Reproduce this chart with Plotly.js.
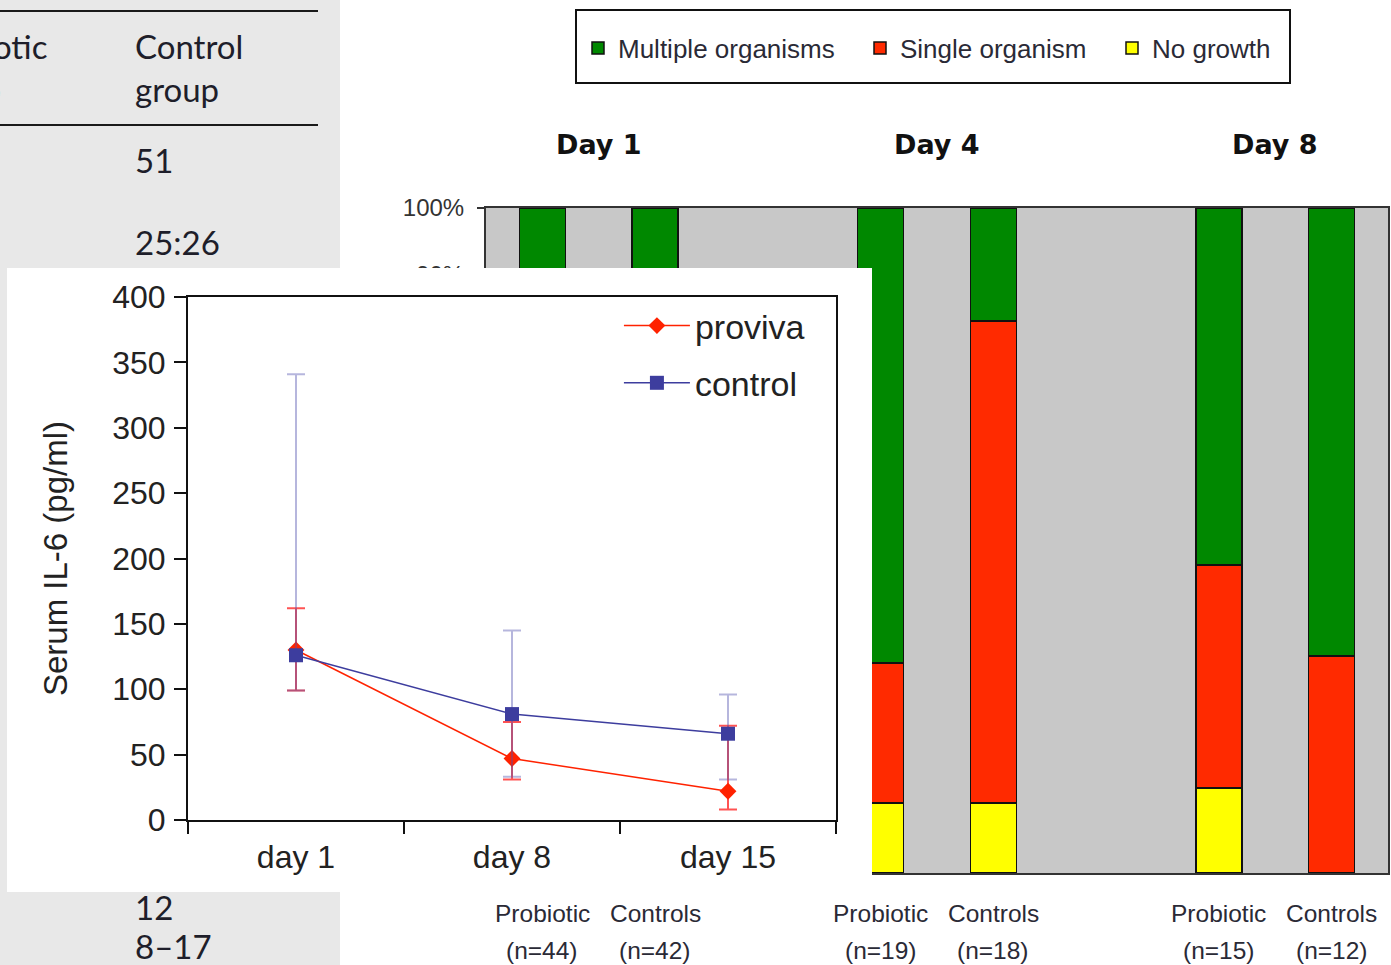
<!DOCTYPE html>
<html>
<head>
<meta charset="utf-8">
<script src="https://cdn.plot.ly/plotly-3.0.1.min.js"></script>
<style>
  html, body { margin:0; padding:0; background:#ffffff; overflow:hidden; }
  #main { position:absolute; left:0; top:0; width:1391px; height:965px; }
  #inset { position:absolute; left:7px; top:268px; width:865px; height:624px; }
</style>
</head>
<body>
<div id="main"></div>
<div id="inset"></div>
<script>
// ---------- Bar chart data (fraction of cultures) ----------
const days = ['Day 1', 'Day 4', 'Day 8'];
const groups = ['Probiotic', 'Controls'];
const nLabels = ['(n=44)', '(n=42)', '(n=19)', '(n=18)', '(n=15)', '(n=12)'];
const multipleOrganisms = [0.75, 0.70, 0.684, 0.170, 0.537, 0.674];
const singleOrganism    = [0.20, 0.26, 0.211, 0.725, 0.335, 0.326];
const noGrowth          = [0.05, 0.04, 0.105, 0.105, 0.128, 0.000];

// ---------- Table fragment text ----------
const tableHeaders = ['Probiotic<br>group', 'Control<br>group'];
const tableControlValues = ['51', '25:26', '12', '8\u201317'];

// ---------- Line chart data (Serum IL-6, pg/ml) ----------
const timepoints = ['day 1', 'day 8', 'day 15'];
const provivaMean  = [130, 47, 22];
const provivaUpper = [162, 75, 72];
const provivaLower = [99, 31, 8];
const controlMean  = [126, 81, 66];
const controlUpper = [341, 145, 96];
const controlLower = [99, 33, 31];

// ---------- Main figure ----------
const W = 1391, H = 965;
const px = x => x / W;
const py = y => 1 - y / H;
const FONT = 'Liberation Sans, Arial, sans-serif';
const TXT = '#2a2a36';

const xPos = [];
days.forEach((d, i) => groups.forEach((g, j) => xPos.push(i * 3 + j)));

const barStyle = { width: 0.41, type: 'bar', x: xPos, hoverinfo: 'skip' };
const barTraces = [
  Object.assign({}, barStyle, { name: 'No growth', y: noGrowth, legend: 'legend3',
    marker: { color: '#ffff00', line: { color: '#111', width: 1.5 } } }),
  Object.assign({}, barStyle, { name: 'Single organism', y: singleOrganism, legend: 'legend2',
    marker: { color: '#ff2a00', line: { color: '#111', width: 1.5 } } }),
  Object.assign({}, barStyle, { name: 'Multiple organisms', y: multipleOrganisms, legend: 'legend',
    marker: { color: '#008800', line: { color: '#111', width: 1.5 } } })
];

const annotations = [];
// Day titles
days.forEach((d, i) => annotations.push({
  text: '<b>' + d + '</b>', x: i * 3 + 0.5, xref: 'x', y: py(145), yref: 'paper',
  showarrow: false, xanchor: 'center', yanchor: 'middle',
  font: { family: 'DejaVu Sans, sans-serif', size: 27, color: '#111' }
}));
// Category labels
xPos.forEach((xv, k) => {
  annotations.push({ text: groups[k % 2], x: xv, xref: 'x', y: py(913), yref: 'paper',
    showarrow: false, xanchor: 'center', yanchor: 'middle',
    font: { family: FONT, size: 24.5, color: TXT } });
  annotations.push({ text: nLabels[k], x: xv, xref: 'x', y: py(950), yref: 'paper',
    showarrow: false, xanchor: 'center', yanchor: 'middle',
    font: { family: FONT, size: 24.5, color: TXT } });
});
// Table fragment
const TFONT = { family: 'Lato, Open Sans, sans-serif', size: 33, color: '#1e1e2a' };
annotations.push({ text: tableHeaders[0], x: px(-85), xref: 'paper', y: py(68), yref: 'paper',
  showarrow: false, xanchor: 'left', yanchor: 'middle', align: 'left', font: TFONT });
annotations.push({ text: tableHeaders[1], x: px(133), xref: 'paper', y: py(68), yref: 'paper',
  showarrow: false, xanchor: 'left', yanchor: 'middle', align: 'left', font: TFONT });
const tableY = [160, 242, 907, 946];
tableControlValues.forEach((t, i) => annotations.push({
  text: t, x: px(133), xref: 'paper', y: py(tableY[i]), yref: 'paper',
  showarrow: false, xanchor: 'left', yanchor: 'middle', font: TFONT
}));

const shapes = [
  { type: 'rect', xref: 'paper', yref: 'paper', x0: px(0), x1: px(340), y0: py(965), y1: py(0),
    fillcolor: '#e8e8e8', line: { width: 0 }, layer: 'below' },
  { type: 'line', xref: 'paper', yref: 'paper', x0: px(0), x1: px(318), y0: py(11), y1: py(11),
    line: { color: '#1a1a1a', width: 2 } },
  { type: 'line', xref: 'paper', yref: 'paper', x0: px(0), x1: px(318), y0: py(125), y1: py(125),
    line: { color: '#1a1a1a', width: 2 } },
  { type: 'rect', xref: 'paper', yref: 'paper', x0: px(576), x1: px(1290), y0: py(83), y1: py(10),
    fillcolor: 'rgba(0,0,0,0)', line: { color: '#111', width: 2 }, layer: 'above' }
];

const legendBase = { orientation: 'h', xanchor: 'left', y: py(48), yanchor: 'middle',
  bgcolor: 'rgba(0,0,0,0)', borderwidth: 0, font: { family: FONT, size: 26, color: TXT } };

const mainLayout = {
  width: W, height: H,
  margin: { l: 0, r: 0, t: 0, b: 0, pad: 0 },
  paper_bgcolor: '#ffffff', plot_bgcolor: '#c8c8c8',
  barmode: 'stack',
  showlegend: true,
  legend:  Object.assign({}, legendBase, { x: px(578) }),
  legend2: Object.assign({}, legendBase, { x: px(860) }),
  legend3: Object.assign({}, legendBase, { x: px(1112) }),
  xaxis: { domain: [px(486), px(1388)], range: [-0.5, 7.5], showticklabels: false, ticks: '',
    showgrid: false, zeroline: false, showline: true, mirror: true, linecolor: '#333', linewidth: 2,
    automargin: false, fixedrange: true },
  yaxis: { domain: [py(873), py(208)], range: [0, 1], dtick: 0.1, tickformat: '.0%',
    ticks: 'outside', ticklen: 7, tickwidth: 2, tickcolor: '#333', ticklabelstandoff: 8,
    showgrid: false, zeroline: false, showline: true, mirror: true, linecolor: '#333', linewidth: 2,
    tickfont: { family: FONT, size: 24, color: '#333' }, automargin: false, fixedrange: true },
  shapes: shapes,
  annotations: annotations
};

Plotly.newPlot('main', barTraces, mainLayout, { staticPlot: true, displayModeBar: false });

// ---------- Inset line chart ----------
const diff = (a, b) => a.map((v, i) => v - b[i]);
const lineTraces = [
  { type: 'scatter', mode: 'lines+markers', name: 'proviva', x: timepoints, y: provivaMean,
    legendgroup: 'a',
    line: { color: '#ff2200', width: 1.5 },
    marker: { symbol: 'diamond', size: 13, color: '#ff2200' },
    error_y: { type: 'data', symmetric: false, array: diff(provivaUpper, provivaMean),
      arrayminus: diff(provivaMean, provivaLower), color: 'rgba(255,40,40,0.8)', thickness: 2, width: 9 } },
  { type: 'scatter', mode: 'lines+markers', name: 'control', x: timepoints, y: controlMean,
    legendgroup: 'b',
    line: { color: '#3d3d9e', width: 1.5 },
    marker: { symbol: 'square', size: 14, color: '#3d3d9e' },
    error_y: { type: 'data', symmetric: false, array: diff(controlUpper, controlMean),
      arrayminus: diff(controlMean, controlLower), color: 'rgba(80,80,175,0.42)', thickness: 2, width: 9 } }
];

const IFONT = { family: FONT, size: 32, color: '#222' };
const insetLayout = {
  width: 865, height: 624,
  margin: { l: 181, r: 36, t: 29, b: 72, pad: 0 },
  paper_bgcolor: '#ffffff', plot_bgcolor: '#ffffff',
  showlegend: true,
  legend: { x: 0.665, xanchor: 'left', y: 1.0, yanchor: 'top', bgcolor: 'rgba(0,0,0,0)',
    itemwidth: 66, tracegroupgap: 10, traceorder: 'grouped',
    font: { family: FONT, size: 34, color: '#222' } },
  xaxis: { type: 'category', range: [-0.5, 2.5], tickson: 'boundaries', ticks: 'outside',
    ticklen: 12, tickwidth: 2, tickcolor: '#111', showline: true, mirror: true,
    linecolor: '#111', linewidth: 2, showgrid: false, zeroline: false, tickfont: IFONT,
    ticklabelstandoff: 8, fixedrange: true },
  yaxis: { range: [0, 400], dtick: 50, ticks: 'outside', ticklen: 12, tickwidth: 2, tickcolor: '#111',
    showline: true, mirror: true, linecolor: '#111', linewidth: 2, showgrid: false, zeroline: false,
    tickfont: IFONT, ticklabelstandoff: 2, automargin: true, fixedrange: true,
    title: { text: 'Serum IL-6 (pg/ml)', font: { family: FONT, size: 33, color: '#222' }, standoff: 35 } }
};

Plotly.newPlot('inset', lineTraces, insetLayout, { staticPlot: true, displayModeBar: false });
</script>
</body>
</html>
